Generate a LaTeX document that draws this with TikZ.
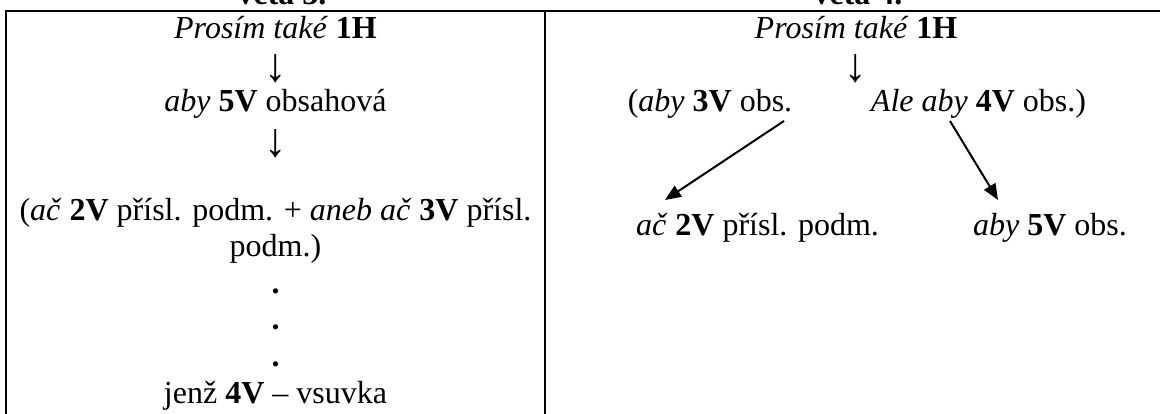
\documentclass[tikz,border=0pt]{standalone}
\usepackage{fontspec}
\setmainfont{Liberation Serif}
\usetikzlibrary{arrows.meta}
\newcommand{\downarr}{\scalebox{1.4}[1.5]{↓}}
\begin{document}
\begin{tikzpicture}[x=1pt,y=-1pt,
  txt/.style={font=\fontsize{32}{36}\selectfont, inner sep=0pt, anchor=base},
  mid/.style={font=\fontsize{32}{36}\selectfont, inner sep=0pt, anchor=center},
  hdr/.style={font=\fontsize{32}{36}\selectfont\bfseries, inner sep=0pt, anchor=base},
  rule/.style={line width=2pt},
  arr/.style={line width=2pt, -{Triangle[length=16pt,width=13pt]}}]
\useasboundingbox (0,0) rectangle (1160,414);
% table rules
\draw[rule] (6,420) -- (6,11) -- (1170,11);
\draw[rule] (545,11) -- (545,420);
% headers (cut off at the top)
\node[hdr] (h3) at (282,5) {věta 3.};
\node[hdr] (h4) at (858,5) {věta 4.};
% left column
\node[txt] (l1) at (275.5,39) {\textit{Prosím také} \textbf{1H}};
\node[mid] (la1) at (275.5,69) {\downarr};
\node[txt] (l2) at (275.5,112) {\textit{aby} \textbf{5V} obsahová};
\node[mid] (la2) at (275.5,144) {\downarr};
\node[txt] (l3) at (275.5,221) {(\textit{ač} \textbf{2V} přísl. podm. + \textit{aneb ač} \textbf{3V} přísl.};
\node[txt] (l4) at (275.5,257) {podm.)};
\node[txt] (d1) at (275.5,294) {\textbf{.}};
\node[txt] (d2) at (275.5,330) {\textbf{.}};
\node[txt] (d3) at (275.5,366) {\textbf{.}};
\node[txt] (l5) at (275.5,403) {jenž \textbf{4V} – vsuvka};
% right column
\node[txt] (r1) at (856,39) {\textit{Prosím také} \textbf{1H}};
\node[mid] (ra) at (856,69) {\downarr};
\node[txt] (r2) at (710,112) {(\textit{aby} \textbf{3V} obs.};
\node[txt] (r3) at (978.5,112) {\textit{Ale aby} \textbf{4V} obs.)};
\node[txt] (r4) at (757.5,236) {\textit{ač} \textbf{2V} přísl. podm.};
\node[txt] (r5) at (1050,236) {\textit{aby} \textbf{5V} obs.};
% arrows
\coordinate (s1) at (784,121);
\coordinate (e1) at (665,200);
\coordinate (s2) at (950,121);
\coordinate (e2) at (998,200);
\draw[arr] (s1) -- (e1);
\draw[arr] (s2) -- (e2);
\end{tikzpicture}
\end{document}
